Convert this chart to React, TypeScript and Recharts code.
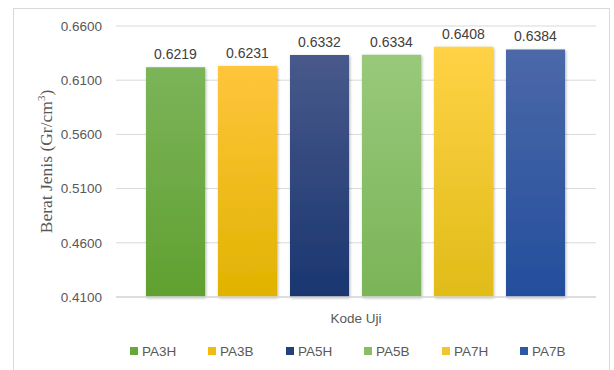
import React from 'react';
import { BarChart, Bar, XAxis, YAxis, CartesianGrid, Legend, LabelList } from 'recharts';

const seriesKeys = ['PA3H', 'PA3B', 'PA5H', 'PA5B', 'PA7H', 'PA7B'];
const seriesValues = [0.6219, 0.6231, 0.6332, 0.6334, 0.6408, 0.6384];
const yTicks = [0.41, 0.46, 0.51, 0.56, 0.61, 0.66];
const categories = [''];

const gradTop = ['#7cb45a', '#ffc53c', '#48598a', '#98c97a', '#ffd246', '#4c68a9'];
const gradBottom = ['#60a030', '#e0b300', '#1a3670', '#7bb458', '#e0bc18', '#234e9c'];
const legendColors = ['#66a83a', '#f2bb10', '#22407a', '#88be66', '#f0c630', '#2f58a4'];

const data = categories.map((name) => {
  const row: Record<string, any> = { name };
  seriesKeys.forEach((k, i) => {
    row[k] = seriesValues[i];
  });
  return row;
});

const FONT = '"Liberation Sans", Arial, sans-serif';

const YLabel = (props: any) => {
  const vb = props.viewBox || {};
  const cx = 52;
  const cy = vb.y + vb.height / 2;
  return (
    <text
      x={cx}
      y={cy}
      transform={`rotate(-90, ${cx}, ${cy})`}
      textAnchor="middle"
      fill="#595959"
      fontFamily='"Liberation Serif", "Times New Roman", serif'
      fontSize={17.5}
    >
      Berat Jenis (Gr/cm<tspan dy={-7} fontSize={11}>3</tspan>
      <tspan dy={7}>)</tspan>
    </text>
  );
};

const LegendContent = () => (
  <div style={{ display: 'flex', paddingLeft: 130, height: 16, alignItems: 'center' }}>
    {seriesKeys.map((k, i) => (
      <div key={k} style={{ display: 'flex', alignItems: 'center', width: 78 }}>
        <span style={{ display: 'inline-block', width: 8, height: 8, background: legendColors[i], marginRight: 4 }} />
        <span style={{ fontFamily: FONT, fontSize: 13.5, color: '#595959' }}>{k}</span>
      </div>
    ))}
  </div>
);

export default function App() {
  return (
    <div style={{ position: 'absolute', left: 0, top: 0, width: 614, height: 370, background: '#fff' }}>
      <div
        style={{
          position: 'absolute',
          left: 13,
          top: 8,
          width: 597,
          height: 380,
          border: '1px solid #d9d9d9',
          boxSizing: 'border-box',
        }}
      />
      <div style={{ position: 'absolute', left: 0, top: 0 }}>
        <BarChart
          width={614}
          height={370}
          data={data}
          margin={{ top: 26, right: 18, bottom: 27, left: 16 }}
          barCategoryGap={30}
          barGap={13}
        >
          <defs>
            {seriesKeys.map((k, i) => (
              <linearGradient key={k} id={`g-${k}`} x1="0" y1="0" x2="0" y2="1">
                <stop offset="0%" stopColor={gradTop[i]} />
                <stop offset="100%" stopColor={gradBottom[i]} />
              </linearGradient>
            ))}
            <filter id="shadow" x="-10%" y="-10%" width="120%" height="120%">
              <feDropShadow dx="1" dy="1" stdDeviation="1.5" floodColor="#000" floodOpacity="0.3" />
            </filter>
          </defs>
          <CartesianGrid vertical={false} stroke="#d9d9d9" />
          <XAxis
            dataKey="name"
            tick={false}
            tickLine={false}
            axisLine={{ stroke: '#d9d9d9', strokeWidth: 1.5 }}
            height={30}
            label={{
              value: 'Kode Uji',
              position: 'insideBottom',
              offset: 4,
              fill: '#595959',
              fontFamily: FONT,
              fontSize: 13.5,
            }}
          />
          <YAxis
            width={100}
            domain={[0.41, 0.66]}
            ticks={yTicks}
            interval={0}
            tickFormatter={(v: number) => v.toFixed(4)}
            axisLine={false}
            tickLine={false}
            tickMargin={8}
            tick={{ fill: '#595959', fontFamily: FONT, fontSize: 13.5 }}
            label={<YLabel />}
          />
          <Legend
            verticalAlign="bottom"
            content={<LegendContent />}
            wrapperStyle={{ top: 343, left: 0, width: 614, height: 16 }}
          />
          {seriesKeys.map((k) => (
            <Bar key={k} dataKey={k} fill={`url(#g-${k})`} filter="url(#shadow)" isAnimationActive={false}>
              <LabelList
                dataKey={k}
                position="top"
                offset={8}
                formatter={(v: any) => Number(v).toFixed(4)}
                fill="#404040"
                fontFamily={FONT}
                fontSize={14}
              />
            </Bar>
          ))}
        </BarChart>
      </div>
    </div>
  );
}
